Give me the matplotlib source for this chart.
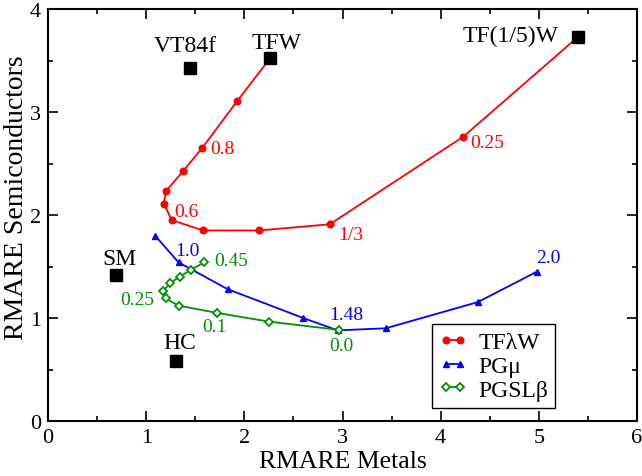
import numpy as np
import matplotlib.pyplot as plt

plt.rcParams["font.family"] = ["Liberation Serif", "DejaVu Serif"]
plt.rcParams["mathtext.fontset"] = "stix"

# TF-lambda-W series, from lambda = 1/5 (TF(1/5)W) up to lambda = 1 (TFW)
tf_x = [5.40, 4.23, 2.87, 2.15, 1.58, 1.26, 1.18, 1.20, 1.38, 1.57, 1.93, 2.26]
tf_y = [3.73, 2.76, 1.91, 1.85, 1.85, 1.95, 2.11, 2.23, 2.43, 2.65, 3.11, 3.52]

# PG-mu series
pg_x = [1.09, 1.33, 1.83, 2.60, 2.95, 3.44, 4.38, 4.98]
pg_y = [1.80, 1.54, 1.28, 1.00, 0.88, 0.90, 1.155, 1.45]

# PGSL-beta series
sl_x = [1.59, 1.46, 1.34, 1.245, 1.175, 1.20, 1.33, 1.72, 2.25, 2.96]
sl_y = [1.54, 1.47, 1.40, 1.34, 1.265, 1.19, 1.12, 1.05, 0.965, 0.885]

# reference functionals
ref_names = ["VT84f", "TFW", "TF(1/5)W", "SM", "HC"]
ref_x = [1.45, 2.26, 5.40, 0.69, 1.30]
ref_y = [3.43, 3.52, 3.73, 1.42, 0.58]

# (point index, text, offset in points, ha)
tf_labels = [(9, "0.8", (6, 0), "left"), (5, "0.6", (2, 6), "left"),
             (2, "1/3", (6, -7), "left"), (1, "0.25", (5, -4.5), "left")]
pg_labels = [(1, "1.0", (6.5, 8.5), "center"), (4, "1.48", (6.5, 11.5), "center"),
             (7, "2.0", (8.5, 10), "center")]
sl_labels = [(0, "0.45", (7, 1), "left"), (4, "0.25", (-6.5, -6), "right"),
             (7, "0.1", (-1.5, -10), "center"), (9, "0.0", (2, -11.5), "center")]
ref_offsets = [(-3.5, 16), (5, 11.5), (-14, 1), (3, 11.5), (3, 13.5)]
ref_ha = ["center", "center", "right", "center", "center"]

red = "#ff0000"
blue = "#0000ff"
green = "#009000"

fig = plt.figure(figsize=(6.42, 4.77), dpi=100)
ax = fig.add_axes([0.0748, 0.1153, 0.9174, 0.8637])

ax.plot(tf_x, tf_y, color=red, lw=1.3, marker="o", ms=4.8, label="TFλW")
ax.plot(pg_x, pg_y, color=blue, lw=1.3, marker="^", ms=5, label="PGμ")
ax.plot(sl_x, sl_y, color=green, lw=1.3, marker="D", ms=3.8, mfc="white",
        mew=1.3, label="PGSLβ")
ax.plot(ref_x, ref_y, ls="none", marker="s", ms=8.5, color="black", zorder=5)

def put_labels(xs, ys, labels, color):
    for i, txt, off, ha in labels:
        ax.annotate(txt, (xs[i], ys[i]), xytext=off, textcoords="offset points",
                    ha=ha, va="center", color=color, fontsize=14)

put_labels(tf_x, tf_y, tf_labels, red)
put_labels(pg_x, pg_y, pg_labels, blue)
put_labels(sl_x, sl_y, sl_labels, green)
for name, x, y, off, ha in zip(ref_names, ref_x, ref_y, ref_offsets, ref_ha):
    ax.annotate(name, (x, y), xytext=off, textcoords="offset points",
                ha=ha, va="center", fontsize=17)

ax.set_xlim(0, 6)
ax.set_ylim(0, 4)
ax.set_xticks(np.arange(0, 7, 1))
ax.set_yticks(np.arange(0, 5, 1))
ax.set_xticks(np.arange(0.5, 6, 1), minor=True)
ax.set_yticks(np.arange(0.5, 4, 1), minor=True)
ax.tick_params(which="both", direction="in", top=True, right=True, width=1.2)
ax.tick_params(which="major", length=7, labelsize=16, pad=5)
ax.tick_params(which="minor", length=3.5)
for s in ax.spines.values():
    s.set_linewidth(1.5)

ax.set_xlabel("RMARE Metals", fontsize=18.5, labelpad=2)
ax.set_ylabel("RMARE Semiconductors", fontsize=20)
ax.yaxis.set_label_coords(-0.032, 0.545)

leg = ax.legend(loc="lower right", bbox_to_anchor=(0.861, 0.032), borderaxespad=0,
                fontsize=17, numpoints=2, handlelength=1.2, handletextpad=0.45,
                labelspacing=0.1, borderpad=0.3, fancybox=False, framealpha=1)
leg.get_frame().set_edgecolor("black")
leg.get_frame().set_linewidth(1.0)

fig.savefig("out.png", dpi=100)
